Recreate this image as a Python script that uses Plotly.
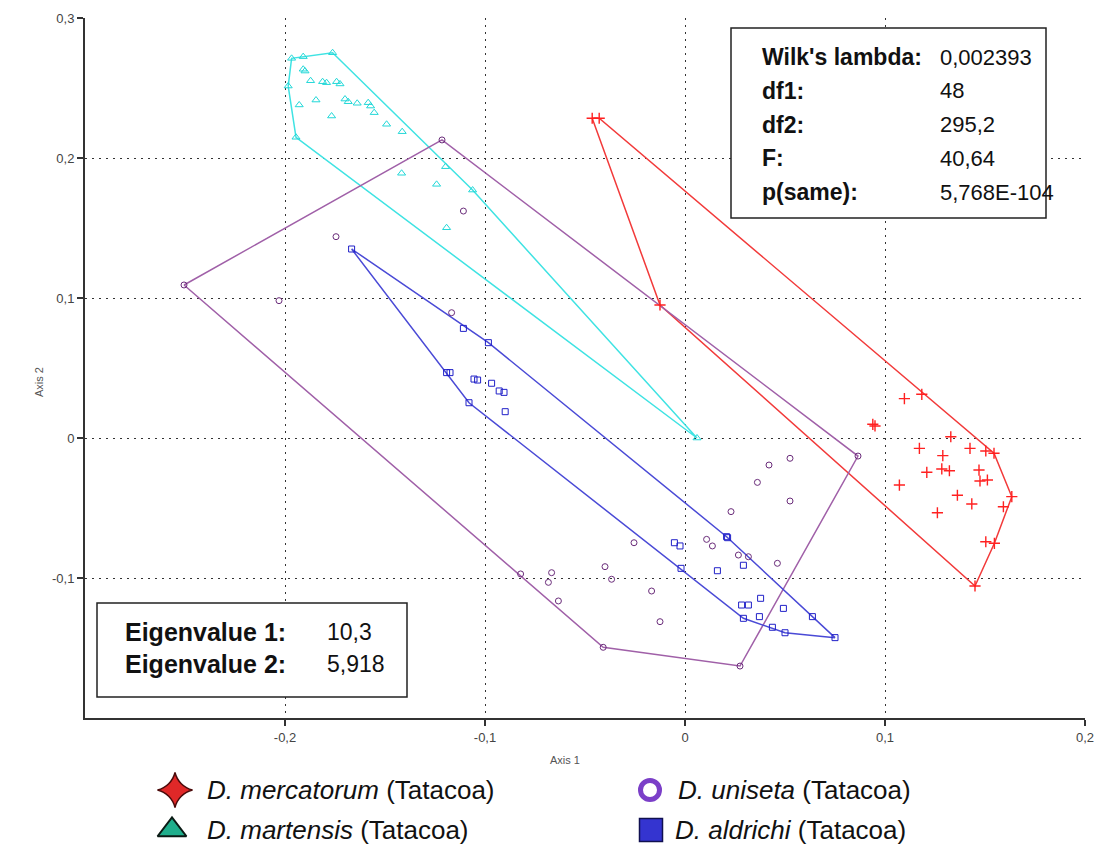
import plotly.graph_objects as go

# ---- Canonical discriminant scores (Axis 1, Axis 2) per species ----
merc_x = [-0.0464, -0.0429, -0.0125, 0.0939, 0.0950, 0.1097, 0.1184, 0.1329, 0.1172, 0.1289,
          0.1284, 0.1322, 0.1209, 0.1425, 0.1504, 0.1545, 0.1470, 0.1475, 0.1512, 0.1072,
          0.1362, 0.1634, 0.1592, 0.1434, 0.1262, 0.1504, 0.1547, 0.1450]
merc_y = [0.2284, 0.2284, 0.0950, 0.0098, 0.0086, 0.0281, 0.0312, 0.0009, -0.0074, -0.0126,
          -0.0221, -0.0234, -0.0245, -0.0074, -0.0093, -0.0109, -0.0229, -0.0307, -0.0300, -0.0336,
          -0.0409, -0.0419, -0.0491, -0.0471, -0.0534, -0.0741, -0.0752, -0.1057]

mart_x = [-0.1967, -0.1909, -0.1762, -0.1909, -0.1900, -0.1872, -0.1812, -0.1792, -0.1742, -0.1725,
          -0.1984, -0.1929, -0.1845, -0.1700, -0.1684, -0.1639, -0.1584, -0.1572, -0.1554, -0.1767,
          -0.1492, -0.1414, -0.1945, -0.1417, -0.1197, -0.1242, -0.1062, -0.1192, 0.0060]
mart_y = [0.2712, 0.2724, 0.2752, 0.2634, 0.2621, 0.2552, 0.2545, 0.2538, 0.2545, 0.2529,
          0.2514, 0.2379, 0.2414, 0.2421, 0.2402, 0.2391, 0.2395, 0.2371, 0.2324, 0.2300,
          0.2241, 0.2188, 0.2148, 0.1891, 0.1938, 0.1812, 0.1771, 0.1502, 0.0000]

unis_x = [-0.2505, -0.1215, -0.1108, -0.1745, -0.2030, -0.1167, 0.0525, 0.0420, 0.0362, 0.0525,
          0.0230, -0.0255, 0.0108, 0.0137, 0.0267, 0.0317, 0.0462, -0.0400, -0.0367, -0.0167,
          -0.0125, -0.0409, -0.0822, -0.0667, -0.0683, -0.0633, 0.0865, 0.0275]
unis_y = [0.1093, 0.2129, 0.1621, 0.1438, 0.0981, 0.0895, -0.0145, -0.0193, -0.0317, -0.0450,
          -0.0526, -0.0748, -0.0724, -0.0771, -0.0836, -0.0848, -0.0895, -0.0919, -0.1009, -0.1093,
          -0.1312, -0.1495, -0.0971, -0.0962, -0.1031, -0.1164, -0.0129, -0.1629]

aldr_x = [-0.1667, -0.1108, -0.0983, -0.1192, -0.1175, -0.1055, -0.1037, -0.0967, -0.0929, -0.0905,
          -0.1080, -0.0899, 0.0208, 0.0213, -0.0053, -0.0025, 0.0292, 0.0162, -0.0020, 0.0378,
          0.0283, 0.0317, 0.0492, 0.0292, 0.0372, 0.0637, 0.0437, 0.0500, 0.0750]
aldr_y = [0.1350, 0.0783, 0.0681, 0.0467, 0.0467, 0.0421, 0.0414, 0.0391, 0.0336, 0.0326,
          0.0252, 0.0188, -0.0705, -0.0712, -0.0748, -0.0771, -0.0909, -0.0948, -0.0931, -0.1145,
          -0.1193, -0.1193, -0.1217, -0.1288, -0.1276, -0.1276, -0.1352, -0.1391, -0.1426]

species = ["D. mercatorum", "D. martensis", "D. uniseta", "D. aldrichi"]
locality = "(Tatacoa)"

# ---- Axis ticks ----
x_tickvals = [-0.2, -0.1, 0.0, 0.1, 0.2]
x_ticktext = ["-0,2", "-0,1", "0", "0,1", "0,2"]
y_tickvals = [-0.1, 0.0, 0.1, 0.2, 0.3]
y_ticktext = ["-0,1", "0", "0,1", "0,2", "0,3"]

# ---- Test statistics ----
stat_labels = ["Wilk's lambda:", "df1:", "df2:", "F:", "p(same):"]
stat_values = ["0,002393", "48", "295,2", "40,64", "5,768E-104"]
eig_labels = ["Eigenvalue 1:", "Eigenvalue 2:"]
eig_values = ["10,3", "5,918"]


def convex_hull(xs, ys):
    pts = sorted(set(zip(xs, ys)))

    def cross(o, a, b):
        return (a[0] - o[0]) * (b[1] - o[1]) - (a[1] - o[1]) * (b[0] - o[0])

    lower = []
    for p in pts:
        while len(lower) >= 2 and cross(lower[-2], lower[-1], p) <= 0:
            lower.pop()
        lower.append(p)
    upper = []
    for p in reversed(pts):
        while len(upper) >= 2 and cross(upper[-2], upper[-1], p) <= 0:
            upper.pop()
        upper.append(p)
    hull = lower[:-1] + upper[:-1]
    hull.append(hull[0])
    return [p[0] for p in hull], [p[1] for p in hull]


# Figure geometry (pixels)
W, H = 1099, 848
ML, MR, MT, MB = 85, 14, 18, 0
PLOT_BOTTOM = 718
paper_h = H - MT - MB


def px(xp):
    return (xp - ML) / (W - ML - MR)


def py(yp):
    return (H - MB - yp) / paper_h


groups = [
    (merc_x, merc_y, "#f23a3a", "#ff2020", "cross-thin-open", 8, 1.4),
    (mart_x, mart_y, "#3fe3e3", "#22d8d8", "triangle-up-open", 7, 1.0),
    (unis_x, unis_y, "#a060a8", "#6a2c7a", "circle-open", 6, 1.0),
    (aldr_x, aldr_y, "#4a4ad6", "#2020c8", "square-open", 6, 1.0),
]

fig = go.Figure()

for gx, gy, hull_col, mk_col, sym, size, lw in groups:
    hx, hy = convex_hull(gx, gy)
    fig.add_trace(go.Scatter(x=hx, y=hy, mode="lines",
                             line=dict(color=hull_col, width=1.5),
                             hoverinfo="skip", showlegend=False))
for gx, gy, hull_col, mk_col, sym, size, lw in groups:
    fig.add_trace(go.Scatter(x=gx, y=gy, mode="markers",
                             marker=dict(symbol=sym, size=size, color=mk_col,
                                         line=dict(color=mk_col, width=lw)),
                             showlegend=False))

# ---- Legend keys drawn on an overlay axis below the plot ----
key_x = [175, 172, 650, 651]
key_y = [58, 18, 58, 18]
text_x = [205, 205, 676, 673]
key_styles = [
    dict(symbol="star-diamond", size=25, color="#e02828", line=dict(color="#4a0a0a", width=1.5)),
    dict(symbol="triangle-up", size=25, color="#1fae8c", line=dict(color="#0a1a14", width=2)),
    dict(symbol="circle", size=19, color="white", line=dict(color="#7b3fc8", width=5)),
    dict(symbol="square", size=23, color="#3434d0", line=dict(color="#101050", width=1.5)),
]
for i in range(4):
    fig.add_trace(go.Scatter(x=[key_x[i]], y=[key_y[i]], mode="markers",
                             marker=key_styles[i], xaxis="x2", yaxis="y2",
                             cliponaxis=False, showlegend=False, hoverinfo="skip"))
    fig.add_annotation(x=text_x[i], y=key_y[i], xref="x2", yref="y2",
                       text=f"<i>{species[i]}</i> {locality}", showarrow=False,
                       xanchor="left", yanchor="middle",
                       font=dict(size=26, color="#111", family="Liberation Sans, Arial"))

# ---- Statistics boxes ----
fig.add_shape(type="rect", xref="paper", yref="paper",
              x0=px(731), x1=px(1046), y0=py(218), y1=py(28),
              fillcolor="white", line=dict(color="#222", width=1.5), layer="above")
fig.add_shape(type="rect", xref="paper", yref="paper",
              x0=px(97), x1=px(407), y0=py(697), y1=py(603),
              fillcolor="white", line=dict(color="#222", width=1.5), layer="above")

font_lab = dict(size=23, color="#111", family="Liberation Sans, Arial")
font_val = dict(size=22, color="#111", family="Liberation Sans, Arial")
font_eig = dict(size=25, color="#111", family="Liberation Sans, Arial")
for i, (lab, val) in enumerate(zip(stat_labels, stat_values)):
    yy = py(57 + i * 33.8)
    fig.add_annotation(x=px(760), y=yy, xref="paper", yref="paper", text=f"<b>{lab}</b>",
                       showarrow=False, xanchor="left", yanchor="middle", font=font_lab)
    fig.add_annotation(x=px(938), y=yy, xref="paper", yref="paper", text=val,
                       showarrow=False, xanchor="left", yanchor="middle", font=font_val)
for i, (lab, val) in enumerate(zip(eig_labels, eig_values)):
    yy = py(632 + i * 32)
    fig.add_annotation(x=px(123), y=yy, xref="paper", yref="paper", text=f"<b>{lab}</b>",
                       showarrow=False, xanchor="left", yanchor="middle", font=font_eig)
    fig.add_annotation(x=px(325), y=yy, xref="paper", yref="paper", text=val,
                       showarrow=False, xanchor="left", yanchor="middle", font=font_lab)

# ---- Axis titles ----
fig.add_annotation(x=px(565), y=py(768), xref="paper", yref="paper", text="Axis 1",
                   showarrow=False, font=dict(size=11, color="#555", family="Liberation Sans, Arial"))
fig.add_annotation(x=px(31), y=py(382), xref="paper", yref="paper", text="Axis 2",
                   showarrow=False, textangle=-90,
                   font=dict(size=11, color="#555", family="Liberation Sans, Arial"))

axis_common = dict(showgrid=True, gridcolor="#333", gridwidth=1, griddash="2px,5px",
                   zeroline=False, showline=True, linecolor="#333", linewidth=2,
                   ticks="outside", ticklen=6, tickwidth=1.5, tickcolor="#333",
                   tickfont=dict(size=13, color="#444", family="Liberation Sans, Arial"))

fig.update_layout(
    width=W, height=H,
    margin=dict(l=ML, r=MR, t=MT, b=MB),
    plot_bgcolor="white", paper_bgcolor="white",
    showlegend=False,
    xaxis=dict(range=[-0.3, 0.2], tickvals=x_tickvals, ticktext=x_ticktext,
               domain=[0, 1], anchor="y", **axis_common),
    yaxis=dict(range=[-0.2, 0.3], tickvals=y_tickvals, ticktext=y_ticktext,
               domain=[py(PLOT_BOTTOM), 1], anchor="x", **axis_common),
    xaxis2=dict(domain=[0, 1], range=[ML, W - MR], visible=False, anchor="y2", fixedrange=True),
    yaxis2=dict(domain=[0, py(732)], range=[0, H - 732], visible=False, anchor="x2", fixedrange=True),
)

fig.write_html("out.html")
